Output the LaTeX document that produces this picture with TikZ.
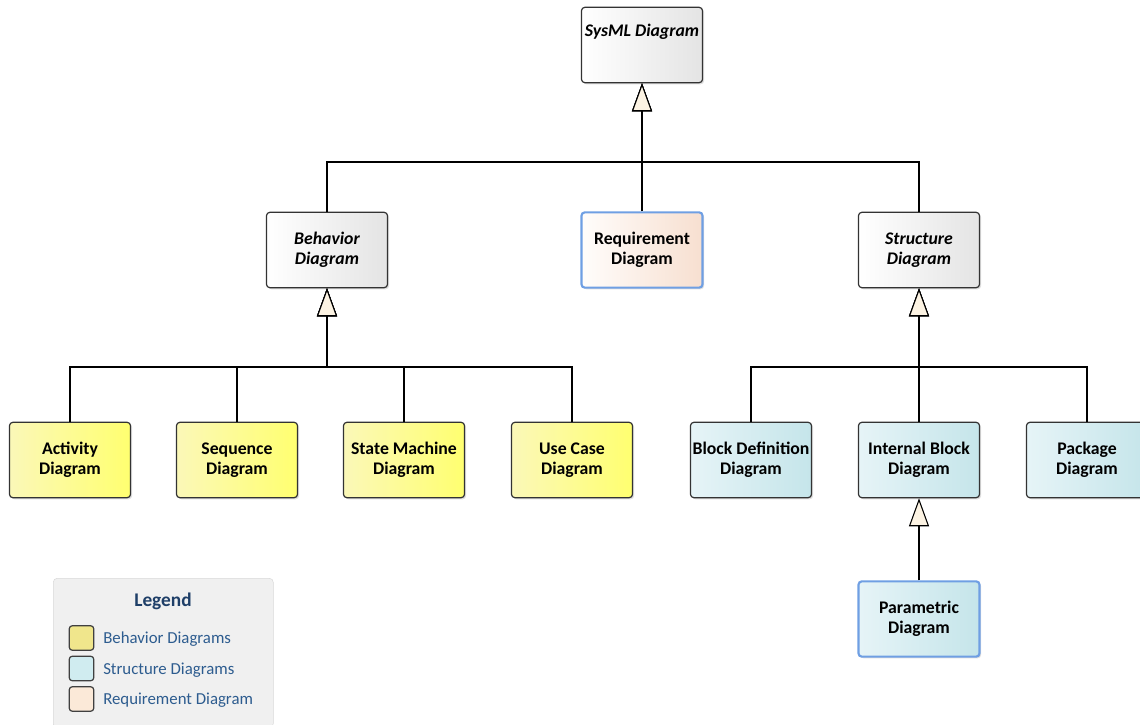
\documentclass[tikz,border=0pt]{standalone}
\usepackage{fontspec}
\setmainfont{Carlito}
\usetikzlibrary{arrows.meta,shadows}
\definecolor{cream}{HTML}{FCF3E3}
\definecolor{ylA}{HTML}{FBF8B8}
\definecolor{ylB}{HTML}{FFFF70}
\definecolor{cyA}{HTML}{E6F4F7}
\definecolor{cyB}{HTML}{C5E5EA}
\definecolor{rqA}{HTML}{FFFDFB}
\definecolor{rqB}{HTML}{F7DFD0}
\definecolor{grA}{HTML}{FFFFFF}
\definecolor{grB}{HTML}{E4E4E4}
\definecolor{selblue}{HTML}{6F9FE3}
\definecolor{legtext}{HTML}{2D5C8F}
\definecolor{legtitle}{HTML}{1F3F68}
\definecolor{swY}{RGB}{240,230,140}
\definecolor{swC}{RGB}{208,236,240}
\definecolor{swR}{RGB}{251,233,216}
\begin{document}
\begin{tikzpicture}[x=0.75pt,y=-0.75pt,
  box/.style={draw=black!80, line width=0.9pt, rounded corners=2.5pt,
    minimum width=90.75pt, minimum height=56.5pt, align=center,
    font=\fontsize{13.3}{15.2}\selectfont\bfseries, inner sep=1pt,
    drop shadow={opacity=0.25, shadow xshift=1.2pt, shadow yshift=-1.2pt}},
  abstract/.style={box, left color=grA, right color=grB, font=\fontsize{13.3}{15.2}\selectfont\bfseries\itshape},
  beh/.style={box, left color=ylA, right color=ylB},
  str/.style={box, left color=cyA, right color=cyB},
  req/.style={box, left color=rqA, right color=rqB, draw=selblue, line width=1.6pt},
  sel/.style={str, draw=selblue, line width=1.6pt},
  gen/.style={draw=black, line width=0.9pt, -{Triangle[length=21pt, width=15pt, fill=cream, line width=0.8pt]}},
  sw/.style={draw=black!75, line width=0.9pt, rounded corners=2.5pt, minimum width=18.5pt, minimum height=18.5pt, inner sep=0pt},
  legt/.style={anchor=base west, text=legtext, font=\fontsize{12.6}{14}\selectfont, inner sep=0pt}
]
\useasboundingbox (0,0) rectangle (1140,725);
\begin{scope}
\clip (0,0) rectangle (1140,725);
% legend
\node[draw=black!15, fill=black!6, rounded corners=3pt, minimum width=165pt, minimum height=112pt, anchor=north west, inner sep=0pt] (legend) at (53,578) {};
\node[text=legtitle, font=\fontsize{14.5}{16}\selectfont\bfseries] (legtitle) at (163,601) {Legend};
\node[sw, fill=swY] (s1) at (81.5,638) {};
\node[sw, fill=swC] (s2) at (81.5,668.5) {};
\node[sw, fill=swR] (s3) at (81.5,699) {};
\node[legt] (l1) at (103,643.5) {Behavior Diagrams};
\node[legt] (l2) at (103,674) {Structure Diagrams};
\node[legt] (l3) at (103,704.5) {Requirement Diagram};

% nodes
\node[abstract, text depth=22pt] (sysml) at (642,45) {SysML Diagram};
\node[abstract] (behav) at (327,250) {Behavior\\Diagram};
\node[req] (reqd) at (642,250) {Requirement\\Diagram};
\node[abstract] (struct) at (919,250) {Structure\\Diagram};
\node[beh] (act) at (70,460) {Activity\\Diagram};
\node[beh] (seq) at (237,460) {Sequence\\Diagram};
\node[beh] (stm) at (404,460) {State Machine\\Diagram};
\node[beh] (uc) at (572,460) {Use Case\\Diagram};
\node[str] (bdd) at (751,460) {Block Definition\\Diagram};
\node[str] (ibd) at (919,460) {Internal Block\\Diagram};
\node[str] (pkg) at (1087,460) {Package\\Diagram};
\node[sel] (par) at (919,619) {Parametric\\Diagram};

% junctions
\coordinate (j0) at (642,162);
\coordinate (j1) at (327,367);
\coordinate (j2) at (919,367);

% connectors
\draw[gen] (behav.north) |- (j0) -- (sysml.south);
\draw[gen] (struct.north) |- (j0) -- (sysml.south);
\draw[gen] (reqd.north) -- (sysml.south);
\draw[gen] (act.north) |- (j1) -- (behav.south);
\draw[gen] (seq.north) |- (j1) -- (behav.south);
\draw[gen] (stm.north) |- (j1) -- (behav.south);
\draw[gen] (uc.north) |- (j1) -- (behav.south);
\draw[gen] (bdd.north) |- (j2) -- (struct.south);
\draw[gen] (ibd.north) -- (struct.south);
\draw[gen] (pkg.north) |- (j2) -- (struct.south);
\draw[gen] (par.north) -- (ibd.south);
\end{scope}
\end{tikzpicture}
\end{document}
